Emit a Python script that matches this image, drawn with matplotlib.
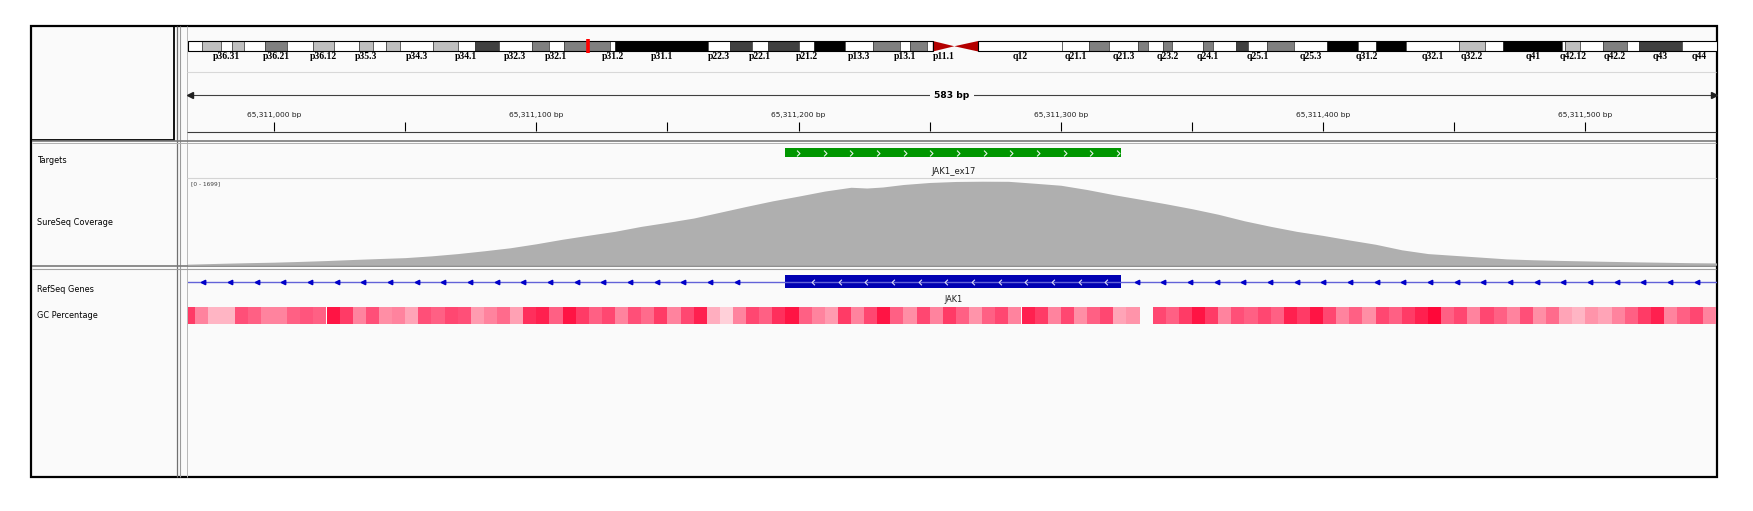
import numpy as np
import matplotlib
matplotlib.use("Agg")
import matplotlib.pyplot as plt
from matplotlib.patches import Rectangle, Polygon
from matplotlib.colors import LinearSegmentedColormap
from matplotlib.path import Path

W, H, DPI = 1753, 511, 100

# ---------------- data ----------------
chrom_length = 249250621
locus_start = 65310967
locus_end = 65311550

band_names = ["p36.33", "p36.32", "p36.31", "p36.23", "p36.22", "p36.21", "p36.13", "p36.12",
              "p36.11", "p35.3", "p35.2", "p35.1", "p34.3", "p34.2", "p34.1", "p33", "p32.3",
              "p32.2", "p32.1", "p31.3", "p31.2", "p31.1", "p22.3", "p22.2", "p22.1", "p21.3",
              "p21.2", "p21.1", "p13.3", "p13.2", "p13.1", "p12", "p11.2", "p11.1", "q11", "q12",
              "q21.1", "q21.2", "q21.3", "q22", "q23.1", "q23.2", "q23.3", "q24.1", "q24.2",
              "q24.3", "q25.1", "q25.2", "q25.3", "q31.1", "q31.2", "q31.3", "q32.1", "q32.2",
              "q32.3", "q41", "q42.11", "q42.12", "q42.13", "q42.2", "q42.3", "q43", "q44"]
band_starts = [0, 2300000, 5400000, 7200000, 9200000, 12700000, 16200000, 20400000, 23900000,
               28000000, 30200000, 32400000, 34600000, 40100000, 44100000, 46800000, 50700000,
               56100000, 59000000, 61300000, 68900000, 69700000, 84900000, 88400000, 92000000,
               94700000, 99700000, 102200000, 107200000, 111800000, 116100000, 117800000,
               120600000, 121500000, 125000000, 128900000, 142600000, 147000000, 150300000,
               155000000, 156500000, 159100000, 160500000, 165500000, 167200000, 170900000,
               172900000, 176000000, 180300000, 185800000, 190800000, 193800000, 198700000,
               207200000, 211500000, 214500000, 224100000, 224600000, 227000000, 230700000,
               234700000, 236600000, 243700000]
band_stains = ["gneg", "gpos25", "gneg", "gpos25", "gneg", "gpos50", "gneg", "gpos25", "gneg",
               "gpos25", "gneg", "gpos25", "gneg", "gpos25", "gneg", "gpos75", "gneg", "gpos50",
               "gneg", "gpos50", "gneg", "gpos100", "gneg", "gpos75", "gneg", "gpos75", "gneg",
               "gpos100", "gneg", "gpos50", "gneg", "gpos50", "gneg", "acen", "acen", "gvar",
               "gneg", "gpos50", "gneg", "gpos50", "gneg", "gpos50", "gneg", "gpos50", "gneg",
               "gpos75", "gneg", "gpos50", "gneg", "gpos100", "gneg", "gpos100", "gneg", "gpos25",
               "gneg", "gpos100", "gneg", "gpos25", "gneg", "gpos50", "gneg", "gpos75", "gneg"]
labeled_bands = ["p36.31", "p36.21", "p36.12", "p35.3", "p34.3", "p34.1", "p32.3", "p32.1",
                 "p31.2", "p31.1", "p22.3", "p22.1", "p21.2", "p13.3", "p13.1", "p11.1", "q12",
                 "q21.1", "q21.3", "q23.2", "q24.1", "q25.1", "q25.3", "q31.2", "q32.1", "q32.2",
                 "q41", "q42.12", "q42.2", "q43", "q44"]

ruler_ticks = [65311000, 65311050, 65311100, 65311150, 65311200, 65311250,
               65311300, 65311350, 65311400, 65311450, 65311500]
ruler_labels = ["65,311,000 bp", "", "65,311,100 bp", "", "65,311,200 bp", "",
                "65,311,300 bp", "", "65,311,400 bp", "", "65,311,500 bp"]

target_name = "JAK1_ex17"
target_start, target_end = 65311195, 65311323

gene_name = "JAK1"
exon_start, exon_end = 65311195, 65311323

coverage_max = 1699
coverage_offset = [-33, -20, -10, 0, 10, 20, 30, 40, 50, 60, 70, 80, 90, 100, 110, 120, 130,
                   140, 150, 160, 170, 180, 190, 200, 210, 220, 226, 232, 240, 250, 260, 270,
                   280, 290, 300, 310, 320, 330, 340, 350, 360, 370, 380, 390, 400, 410, 420,
                   430, 440, 450, 460, 470, 480, 490, 500, 510, 520, 530, 540, 550]
coverage_val = [20, 38, 50, 60, 75, 92, 113, 132, 150, 185, 230, 285, 345, 425, 515, 595, 672,
                770, 850, 935, 1050, 1165, 1275, 1370, 1470, 1545, 1530, 1550, 1600, 1640, 1660,
                1665, 1663, 1625, 1585, 1500, 1400, 1310, 1218, 1120, 1010, 880, 770, 670, 590,
                500, 415, 305, 230, 195, 160, 125, 108, 95, 85, 75, 66, 58, 50, 45]
coverage_pos = [65311000 + o for o in coverage_offset]

gc_window = 5
gc_start = 65310965
gc_values = [65, 45, 30, 30, 60, 55, 45, 45, 55, 58, 55, 75, 65, 45, 60, 42, 45, 35, 60, 55,
             62, 60, 38, 45, 52, 36, 68, 72, 55, 75, 65, 55, 62, 45, 60, 52, 65, 45, 62, 72,
             32, 22, 45, 62, 55, 68, 75, 55, 45, 38, 65, 45, 62, 75, 55, 42, 62, 45, 65, 55,
             40, 55, 62, 45, 72, 65, 45, 62, 42, 55, 62, 35, 40, np.nan, 62, 55, 65, 75, 65, 45,
             60, 55, 62, 55, 72, 65, 75, 62, 45, 55, 42, 62, 55, 65, 72, 78, 55, 62, 45, 62,
             55, 45, 60, 42, 52, 35, 30, 40, 35, 45, 55, 65, 72, 45, 55, 62, 45]

track_names = ["Targets", "SureSeq Coverage", "RefSeq Genes", "GC Percentage"]
track_name_y = [160.5, 222.5, 289, 315.5]

# ---------------- figure ----------------
SANS = "DejaVu Sans"
fig = plt.figure(figsize=(W / DPI, H / DPI), dpi=DPI)
fig.patch.set_facecolor("white")


def px_box(x0, y0, x1, y1):
    return [x0 / W, 1 - y1 / H, (x1 - x0) / W, (y1 - y0) / H]


PANEL = "#FAFAFA"
DX0, DX1 = 187.5, 1716.5

# base layer in pixel coordinates
ax0 = fig.add_axes([0, 0, 1, 1])
ax0.set_xlim(0, W)
ax0.set_ylim(H, 0)
ax0.axis("off")
ax0.add_patch(Rectangle((31, 26), 1686, 451, facecolor=PANEL, edgecolor="none"))
ax0.vlines(176.8, 26, 477, color="#707070", lw=0.9)
ax0.vlines(180.4, 26, 477, color="#9A9A9A", lw=0.8)
ax0.vlines(DX0, 26, 477, color="#B8B8B8", lw=0.7)
ax0.hlines(142.7, 32, DX1, color="#B0B0B0", lw=0.7)
ax0.hlines(140.6, 32, DX1, color="#7A7A7A", lw=1.2)
ax0.hlines(265.8, 32, DX1, color="#7A7A7A", lw=1.2)
ax0.hlines(268.6, 32, DX1, color="#A0A0A0", lw=0.8)
ax0.hlines(72.5, DX0, DX1, color="#D8D8D8", lw=0.8)
ax0.hlines(178.3, DX0, DX1, color="#D4D4D4", lw=0.8)
ax0.hlines(131.6, DX0, DX1, color="#3C3C3C", lw=0.8)
ax0.add_patch(Rectangle((31, 26), 143, 114, fill=False, edgecolor="black", lw=1.3))
ax0.add_patch(Rectangle((31, 26), 1686, 451, fill=False, edgecolor="black", lw=1.6))
for name, y in zip(track_names, track_name_y):
    ax0.text(37.5, y, name, fontsize=5.9, family=SANS, va="center", ha="left", color="black")
ax0.text(191.5, 184, f"[0 - {coverage_max}]", fontsize=4.2, family=SANS, va="center",
         ha="left", color="#404040")

# ---------------- ideogram ----------------
ax_id = fig.add_axes(px_box(DX0, 36, DX1, 62))
ax_id.set_xlim(0, chrom_length)
ax_id.set_ylim(62, 36)
ax_id.axis("off")
stain_color = {"gneg": "white", "gvar": "white", "gpos25": "#BFBFBF", "gpos50": "#808080",
               "gpos75": "#404040", "gpos100": "#000000"}
IT, IB = 41, 51.5
IM = (IT + IB) / 2
band_ends = band_starts[1:] + [chrom_length]
for name, s, e, st in zip(band_names, band_starts, band_ends, band_stains):
    if st == "acen":
        if name.startswith("p"):
            ax_id.add_patch(Polygon([(s, IT), (s, IB), (e, IM)], closed=True,
                                    facecolor="#B40000", edgecolor="none"))
        else:
            ax_id.add_patch(Polygon([(s, IM), (e, IT), (e, IB)], closed=True,
                                    facecolor="#B40000", edgecolor="none"))
    else:
        ax_id.add_patch(Rectangle((s, IT), e - s, IB - IT, facecolor=stain_color[st],
                                  edgecolor="#202020", lw=0.4))
p_end = band_starts[band_names.index("p11.1")]
q_start = band_starts[band_names.index("q12")]
ax_id.add_patch(Rectangle((0, IT), p_end, IB - IT, fill=False, edgecolor="black", lw=0.8))
ax_id.add_patch(Rectangle((q_start, IT), chrom_length - q_start, IB - IT, fill=False,
                          edgecolor="black", lw=0.8))
for name, s, e in zip(band_names, band_starts, band_ends):
    if name in labeled_bands:
        ax_id.text((s + e) / 2, 56.6, name, fontsize=7.0, family="Liberation Serif",
                   fontweight="bold", ha="center", va="center", color="black")
ax_id.vlines((locus_start + locus_end) / 2, 39.3, 52.8, color="#FF0000", lw=2.6, zorder=5)

# ---------------- ruler / targets / genes / GC ----------------
ax_d = fig.add_axes(px_box(DX0, 26, DX1, 477))
ax_d.set_xlim(locus_start, locus_end)
ax_d.set_ylim(477, 26)
ax_d.axis("off")
px_per_bp = (DX1 - DX0) / (locus_end - locus_start)

ax_d.plot([locus_start, locus_end], [95, 95], color="#404040", lw=0.8)
ax_d.plot([locus_start + 1.0], [95], marker="<", ms=4.2, color="#202020", clip_on=False)
ax_d.plot([locus_end - 1.0], [95], marker=">", ms=4.2, color="#202020", clip_on=False)
ax_d.text((locus_start + locus_end) / 2, 95, f"{locus_end - locus_start} bp", fontsize=6.6,
          family=SANS, fontweight="bold", ha="center", va="center", color="black",
          bbox=dict(facecolor=PANEL, edgecolor="none", pad=3.5))
ax_d.vlines(ruler_ticks, 122, 130.8, color="black", lw=0.8)
for t, lab in zip(ruler_ticks, ruler_labels):
    if lab:
        ax_d.text(t, 114.8, lab, fontsize=5.4, family=SANS, ha="center", va="center",
                  color="#202020")

chev_right = Path([(-0.5, 1), (0.5, 0), (-0.5, -1)], [Path.MOVETO, Path.LINETO, Path.LINETO])
chev_left = Path([(0.5, 1), (-0.5, 0), (0.5, -1)], [Path.MOVETO, Path.LINETO, Path.LINETO])
ARROW_PX = 26.67

# targets
ax_d.add_patch(Rectangle((target_start, 148.4), target_end - target_start, 9.0,
                         facecolor="#009600", edgecolor="none"))
tx = []
x = target_start + 12.6 / px_per_bp
while x < target_end - 2 / px_per_bp:
    tx.append(x)
    x += ARROW_PX / px_per_bp
ax_d.plot(tx, [152.9] * len(tx), linestyle="none", marker=chev_right, ms=4.2, mfc="none",
          mec="#E8F4E8", mew=0.8)
ax_d.text((target_start + target_end) / 2, 171.6, target_name, fontsize=6.1, family=SANS,
          ha="center", va="center", color="#202020")

# genes
ax_d.plot([locus_start, locus_end], [282, 282], color="#6262D8", lw=1.0)
gx = []
x = locus_start + 15.8 / px_per_bp
while x < locus_end:
    if not (exon_start - 25 / px_per_bp < x < exon_end + 5 / px_per_bp):
        gx.append(x)
    x += ARROW_PX / px_per_bp
ax_d.plot(gx, [282] * len(gx), linestyle="none", marker="<", ms=3.2, color="#0000C8",
          mec="#0000C8")
ax_d.add_patch(Rectangle((exon_start, 275.2), exon_end - exon_start, 12.8,
                         facecolor="#0000B2", edgecolor="none"))
ex = []
x = exon_start + 27.6 / px_per_bp
while x < exon_end - 8 / px_per_bp:
    ex.append(x)
    x += ARROW_PX / px_per_bp
ax_d.plot(ex, [281.6] * len(ex), linestyle="none", marker=chev_left, ms=4.0, mfc="none",
          mec="#DDDDF4", mew=0.8)
ax_d.text((exon_start + exon_end) / 2, 299.8, gene_name, fontsize=5.9, family=SANS,
          ha="center", va="center", color="#202020")

# GC percentage heat strip
gc_cmap = LinearSegmentedColormap.from_list(
    "gc", ["#FFD6DE", "#FF94AA", "#FF4F78", "#FF0033"])
gc_arr = np.array(gc_values, dtype=float)
gc_left = [gc_start + i * gc_window for i in range(len(gc_arr))]
ok = ~np.isnan(gc_arr)
norm_vals = np.clip((gc_arr[ok] - 20) / 60.0, 0, 1)
ax_d.bar(np.array(gc_left)[ok], [17.4] * ok.sum(), width=gc_window, bottom=306.8,
         align="edge", color=gc_cmap(norm_vals), edgecolor="none", linewidth=0)

# ---------------- coverage ----------------
ax_c = fig.add_axes(px_box(DX0, 179.5, DX1, 265.2))
ax_c.set_xlim(locus_start, locus_end)
ax_c.set_ylim(0, coverage_max)
ax_c.axis("off")
ax_c.fill_between(coverage_pos, 0, coverage_val, color="#AFAFAF", lw=0)

fig.savefig("out.png", dpi=DPI, facecolor="white")
